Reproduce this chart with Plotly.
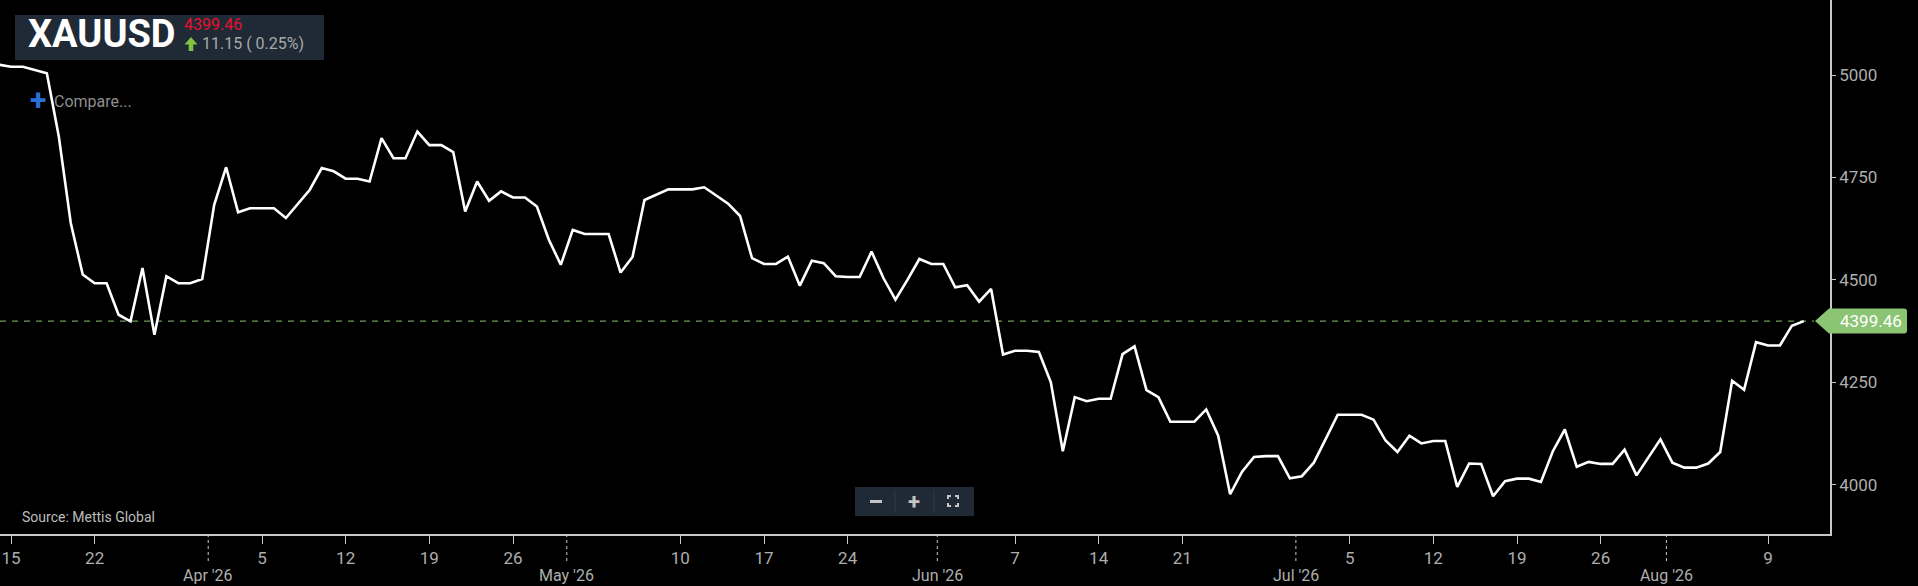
import pandas as pd
import plotly.graph_objects as go

# ---------------- data ----------------
symbol = "XAUUSD"
start_date = "2026-03-14"
end_date = "2026-08-12"
prices = [
    5025, 5020, 5020, 5012, 5004, 4850, 4639, 4513, 4492, 4492,
    4415, 4399, 4529, 4366, 4509, 4492, 4492, 4502, 4683, 4775,
    4665, 4675, 4675, 4675, 4651, 4685, 4720, 4773, 4765, 4747,
    4747, 4740, 4846, 4797, 4797, 4862, 4829, 4829, 4812, 4667,
    4740, 4693, 4716, 4701, 4701, 4679, 4598, 4537, 4622, 4612,
    4612, 4612, 4518, 4556, 4695, 4709, 4721, 4721, 4721, 4726,
    4707, 4686, 4656, 4553, 4539, 4539, 4557, 4486, 4547, 4541,
    4509, 4507, 4507, 4569, 4504, 4452, 4500, 4551, 4539, 4539,
    4482, 4487, 4447, 4478, 4318, 4327, 4327, 4324, 4250, 4082,
    4214, 4204, 4210, 4210, 4319, 4338, 4231, 4214, 4154, 4154,
    4154, 4184, 4120, 3977, 4032, 4068, 4070, 4070, 4016, 4021,
    4054, 4112, 4171, 4171, 4171, 4159, 4108, 4080, 4120, 4101,
    4107, 4107, 3995, 4052, 4051, 3972, 4009, 4015, 4015, 4007,
    4082, 4135, 4044, 4056, 4051, 4051, 4086, 4023, 4068, 4111,
    4054, 4042, 4042, 4052, 4080, 4254, 4232, 4348, 4340, 4340,
    4388.31, 4399.46,
]
dates = pd.date_range(start_date, end_date, freq="D")

day_tick_dates = ["2026-03-15", "2026-03-22", "2026-04-05", "2026-04-12", "2026-04-19",
                  "2026-04-26", "2026-05-10", "2026-05-17", "2026-05-24", "2026-06-07",
                  "2026-06-14", "2026-06-21", "2026-07-05", "2026-07-12", "2026-07-19",
                  "2026-07-26", "2026-08-09"]
day_tick_labels = ["15", "22", "5", "12", "19", "26", "10", "17", "24", "7",
                   "14", "21", "5", "12", "19", "26", "9"]
month_dates = ["2026-04-01", "2026-05-01", "2026-06-01", "2026-07-01", "2026-08-01"]
month_labels = ["Apr '26", "May '26", "Jun '26", "Jul '26", "Aug '26"]
y_ticks = [4000, 4250, 4500, 4750, 5000]

source_text = "Source: Mettis Global"
compare_text = "Compare..."

last_price = prices[-1]
prev_price = prices[-2]
change = last_price - prev_price
change_pct = change / prev_price * 100

# ---------------- geometry helpers ----------------
W, H = 1918, 586
ML, MR, MT, MB = 0, 88, 0, 52
PW, PH = W - ML - MR, H - MT - MB
Y_RANGE = [3880, 5183]
X_RANGE = ["2026-03-14 01:55", "2026-08-14 04:30"]
units_per_px = (Y_RANGE[1] - Y_RANGE[0]) / PH


def px(x):
    return (x - ML) / PW


def py(y):
    return 1 - (y - MT) / PH


BOX = "#1f2a36"
AXIS = "#c8c8c8"
TICKTXT = "#aeaeae"
GREEN = "#8bc473"
FONT = "Roboto"

fig = go.Figure()
fig.add_trace(go.Scatter(
    x=dates, y=prices, mode="lines",
    line=dict(color="white", width=2.6),
    hoverinfo="skip", showlegend=False,
))

shapes = []
annotations = []

# title box
shapes.append(dict(type="rect", xref="paper", yref="paper",
                   x0=px(15), x1=px(324), y0=py(60), y1=py(15),
                   fillcolor=BOX, line=dict(width=0), layer="above"))
annotations.append(dict(text=symbol, xref="paper", yref="paper", x=px(26), y=py(34),
                        xanchor="left", yanchor="middle", showarrow=False,
                        font=dict(family=FONT, size=38, color="white", weight=700)))
annotations.append(dict(text=f"{last_price:.2f}", xref="paper", yref="paper",
                        x=px(182), y=py(24.5), xanchor="left", yanchor="middle",
                        showarrow=False, font=dict(family=FONT, size=16, color="#e8112d")))
annotations.append(dict(text=f"{change:.2f} ( {change_pct:.2f}%)", xref="paper", yref="paper",
                        x=px(200), y=py(44), xanchor="left", yanchor="middle",
                        showarrow=False, font=dict(family=FONT, size=16, color="#a9a9a9")))
# green up arrow
arrow_pts = [(191, 37), (197.5, 44.5), (193.3, 44.5), (193.3, 51), (188.7, 51), (188.7, 44.5), (184.5, 44.5)]
path = "M " + " L ".join(f"{px(a)},{py(b)}" for a, b in arrow_pts) + " Z"
shapes.append(dict(type="path", xref="paper", yref="paper", path=path,
                   fillcolor="#7dc242", line=dict(width=0), layer="above"))

# compare
annotations.append(dict(text="<b>+</b>", xref="paper", yref="paper", x=px(37.5), y=py(99),
                        xanchor="center", yanchor="middle", showarrow=False,
                        font=dict(family=FONT, size=30, color="#2a6fdb")))
annotations.append(dict(text=compare_text, xref="paper", yref="paper", x=px(52), y=py(101),
                        xanchor="left", yanchor="middle", showarrow=False,
                        font=dict(family=FONT, size=16, color="#8e8e8e")))

# source
annotations.append(dict(text=source_text, xref="paper", yref="paper", x=px(20), y=py(517),
                        xanchor="left", yanchor="middle", showarrow=False,
                        font=dict(family=FONT, size=14, color="#bdbdbd")))

# zoom control box
shapes.append(dict(type="rect", xref="paper", yref="paper",
                   x0=px(855), x1=px(974), y0=py(516), y1=py(487),
                   fillcolor=BOX, line=dict(width=0), layer="above"))
for sx in (895, 934):
    shapes.append(dict(type="line", xref="paper", yref="paper",
                       x0=px(sx), x1=px(sx), y0=py(513), y1=py(490),
                       line=dict(color="#2c3845", width=1), layer="above"))
shapes.append(dict(type="line", xref="paper", yref="paper",
                   x0=px(870), x1=px(882), y0=py(501.5), y1=py(501.5),
                   line=dict(color="#c4c4c4", width=3), layer="above"))
annotations.append(dict(text="<b>+</b>", xref="paper", yref="paper", x=px(914), y=py(501),
                        xanchor="center", yanchor="middle", showarrow=False,
                        font=dict(family=FONT, size=22, color="#c4c4c4")))
cx, cy, s, l = 953, 501, 5, 3
for dx, dy in ((-1, -1), (1, -1), (-1, 1), (1, 1)):
    x0, y0 = cx + dx * s, cy + dy * s
    p = f"M {px(x0 - dx * l)},{py(y0)} L {px(x0)},{py(y0)} L {px(x0)},{py(y0 - dy * l)}"
    shapes.append(dict(type="path", xref="paper", yref="paper", path=p,
                       line=dict(color="#c4c4c4", width=2), layer="above"))

# last price dashed line and tag
shapes.append(dict(type="line", xref="paper", yref="y", x0=0, x1=px(1814),
                   y0=last_price, y1=last_price,
                   line=dict(color="#6f9c5a", width=1.2, dash="6px,6px"), layer="below"))
hh = 12.5 * units_per_px
tag = (f"M {px(1815)},{last_price} L {px(1829)},{last_price - hh} "
       f"L {px(1904)},{last_price - hh} Q {px(1907)},{last_price - hh} {px(1907)},{last_price - hh + 3 * units_per_px} "
       f"L {px(1907)},{last_price + hh - 3 * units_per_px} Q {px(1907)},{last_price + hh} {px(1904)},{last_price + hh} "
       f"L {px(1829)},{last_price + hh} Z")
shapes.append(dict(type="path", xref="paper", yref="y", path=tag,
                   fillcolor=GREEN, line=dict(width=0), layer="above"))
annotations.append(dict(text=f"{last_price:.2f}", xref="paper", yref="y", x=px(1871), y=last_price,
                        xanchor="center", yanchor="middle", showarrow=False,
                        font=dict(family=FONT, size=17, color="white")))

# month dividers and labels
for md, ml in zip(month_dates, month_labels):
    xd = pd.Timestamp(md) - pd.Timedelta(hours=12)
    shapes.append(dict(type="line", xref="x", yref="paper", x0=xd, x1=xd,
                       y0=0, y1=-29 / PH, line=dict(color=AXIS, width=1, dash="dot")))
    annotations.append(dict(text=ml, xref="x", yref="paper", x=xd, y=py(575),
                            xanchor="center", yanchor="middle", showarrow=False,
                            font=dict(family=FONT, size=16, color=TICKTXT)))

fig.update_layout(
    width=W, height=H,
    margin=dict(l=ML, r=MR, t=MT, b=MB, pad=0),
    paper_bgcolor="black", plot_bgcolor="black",
    showlegend=False,
    shapes=shapes, annotations=annotations,
    xaxis=dict(
        range=X_RANGE, type="date",
        tickvals=day_tick_dates, ticktext=day_tick_labels,
        ticks="outside", ticklen=8, tickwidth=1, tickcolor=AXIS,
        showline=True, linecolor=AXIS, linewidth=1.5,
        showgrid=False, zeroline=False,
        tickfont=dict(family=FONT, size=17, color=TICKTXT),
        fixedrange=True,
    ),
    yaxis=dict(
        range=Y_RANGE, side="right",
        tickvals=y_ticks, ticktext=[str(v) for v in y_ticks],
        ticks="outside", ticklen=4, tickwidth=1, tickcolor=AXIS,
        showline=True, linecolor=AXIS, linewidth=1.5,
        showgrid=False, zeroline=False,
        tickfont=dict(family=FONT, size=17, color=TICKTXT),
        fixedrange=True,
    ),
)

fig.write_html("out.html", config={"displayModeBar": False},
               post_script="document.body.style.margin='0';document.body.style.overflow='hidden';")
